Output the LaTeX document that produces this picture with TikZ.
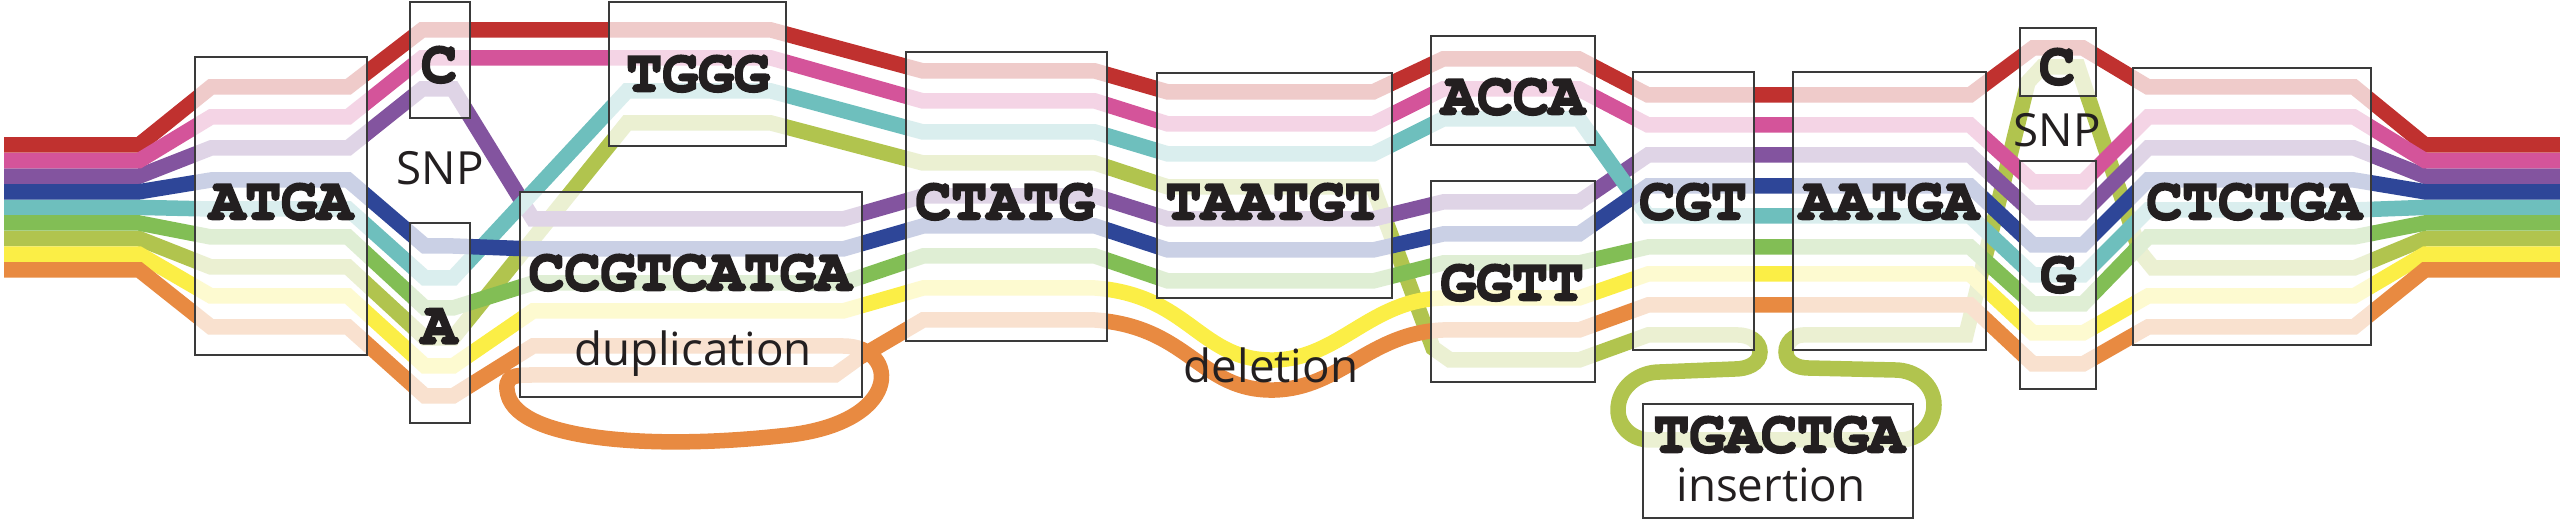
\documentclass[tikz,border=0pt]{standalone}
\usepackage{fontspec}
\newfontfamily\notefont{Open Sans}
\newcommand{\seqfont}{\fontencoding{T1}\fontfamily{pcr}\fontseries{b}\selectfont}
\usetikzlibrary{fit,positioning}
\definecolor{pathred}{HTML}{C0312F}
\definecolor{pathpink}{HTML}{D4549A}
\definecolor{pathpurple}{HTML}{83549F}
\definecolor{pathblue}{HTML}{2E4698}
\definecolor{pathteal}{HTML}{6EBFBD}
\definecolor{pathgreen}{HTML}{82BE55}
\definecolor{patholive}{HTML}{B1C44E}
\definecolor{pathyellow}{HTML}{FBEE46}
\definecolor{pathorange}{HTML}{E88A41}
\definecolor{boxgray}{HTML}{3A3A3A}
\definecolor{ink}{HTML}{231F20}
\tikzset{
  lane/.style={line width=0.155cm, miter limit=2},
  seqbox/.style={draw=boxgray, line width=0.7pt, fill=white, fill opacity=0.75,
                 inner sep=0pt},
  seq/.style={font=\fontsize{17}{17}\seqfont, text=ink, inner sep=0pt,
              execute at begin node=\special{pdf:literal 2 Tr 0.6 w},
              execute at end node=\special{pdf:literal 0 Tr}},
  note/.style={font=\notefont\fontsize{13}{13}\selectfont, text=ink, inner sep=0pt},
}

\begin{document}
\begin{tikzpicture}[x=0.01cm, y=-0.01cm]
  \useasboundingbox (0,0) rectangle (2560,528);

  % haplotype paths, olive first so it runs underneath
  \draw[lane, patholive] (4,238.6) -- (139,238.6) -- (211,267) -- (348,267)
    -- (425,338) -- (453,338) -- (627,123) -- (771,123) -- (923,163) -- (1095,163)
    -- (1168,187) -- (1373,187) -- (1433,348) -- (1450,360) -- (1579,360)
    -- (1648,335) -- (1738,335) to[out=0,in=90] (1760,352) to[out=-90,in=0] (1735,369)
    -- (1660,372) to[out=180,in=90] (1618,410) to[out=-90,in=180] (1650,440)
    -- (1900,440) to[out=0,in=-90] (1934,405) to[out=90,in=0] (1895,370)
    -- (1808,368) to[out=180,in=-90] (1786,352) to[out=90,in=180] (1803,335)
    -- (1966,335) -- (2028,82) -- (2042,67) -- (2078,67) -- (2140,252)
    -- (2153,268) -- (2354,268) -- (2425,238.6) -- (2560,238.6);
  \draw[lane, pathpurple] (4,176.2) -- (139,176.2) -- (211,148) -- (348,148)
    -- (422,89) -- (453,89) -- (533,219) -- (843,219) -- (923,196) -- (1095,196)
    -- (1168,219) -- (1373,219) -- (1443,202) -- (1579,202) -- (1648,155)
    -- (1970,155) -- (2033,213) -- (2083,213) -- (2148,148) -- (2354,148)
    -- (2425,176.2) -- (2560,176.2);
  \draw[lane, pathteal] (4,207.4) -- (139,207.4) -- (211,209) -- (348,209)
    -- (425,278) -- (453,278) -- (627,91) -- (771,91) -- (923,132) -- (1095,132)
    -- (1168,154) -- (1373,154) -- (1443,119) -- (1579,119) -- (1648,216)
    -- (1970,216) -- (2033,275) -- (2083,275) -- (2148,210) -- (2354,210)
    -- (2425,207.4) -- (2560,207.4);
  \draw[lane, pathred] (4,145) -- (139,145) -- (211,87) -- (348,87)
    -- (422,30) -- (771,30) -- (923,71) -- (1095,71) -- (1168,92) -- (1373,92)
    -- (1443,59) -- (1579,59) -- (1648,95) -- (1970,95) -- (2033,48) -- (2083,48)
    -- (2148,87) -- (2354,87) -- (2425,145) -- (2560,145);
  \draw[lane, pathpink] (4,160.6) -- (139,160.6) -- (211,117) -- (348,117)
    -- (422,58) -- (771,58) -- (923,101) -- (1095,101) -- (1168,124) -- (1373,124)
    -- (1443,89) -- (1579,89) -- (1648,125) -- (1970,125) -- (2033,182)
    -- (2083,182) -- (2148,117) -- (2354,117) -- (2425,160.6) -- (2560,160.6);
  \draw[lane, pathblue] (4,191.8) -- (139,191.8) -- (211,180) -- (348,180)
    -- (425,246) -- (453,246) -- (533,249) -- (843,249) -- (923,226) -- (1095,226)
    -- (1168,250) -- (1373,250) -- (1443,234) -- (1579,234) -- (1648,186)
    -- (1970,186) -- (2033,245) -- (2083,245) -- (2148,180) -- (2354,180)
    -- (2425,191.8) -- (2560,191.8);
  \draw[lane, pathgreen] (4,223) -- (139,223) -- (211,237) -- (348,237)
    -- (425,308) -- (453,308) -- (533,283) -- (843,283) -- (923,256) -- (1095,256)
    -- (1168,281) -- (1373,281) -- (1443,263) -- (1579,263) -- (1648,247)
    -- (1970,247) -- (2033,304) -- (2083,304) -- (2148,237) -- (2354,237)
    -- (2425,223) -- (2560,223);
  \draw[lane, pathyellow] (4,254.2) -- (139,254.2) -- (211,296) -- (348,296)
    -- (425,366) -- (453,366) -- (533,311) -- (843,311) -- (923,288) -- (1095,288)
    .. controls (1190,295) and (1200,362) .. (1275,360)
    .. controls (1340,358) and (1370,300) .. (1443,298) -- (1579,298)
    -- (1648,274) -- (1970,274) -- (2033,333) -- (2083,333) -- (2148,296)
    -- (2354,296) -- (2425,254.2) -- (2560,254.2);
  \draw[lane, pathorange] (4,269.8) -- (139,269.8) -- (211,327) -- (348,327)
    -- (425,396) -- (453,396) -- (533,346) -- (843,346)
    .. controls (900,346) and (905,425) .. (780,436)
    .. controls (650,450) and (520,440) .. (508,395)
    .. controls (503,375) and (515,375) .. (533,375) -- (835,375) -- (860,357)
    -- (923,320) -- (1095,320)
    .. controls (1190,327) and (1200,392) .. (1275,390)
    .. controls (1340,388) and (1370,333) .. (1443,330) -- (1579,330)
    -- (1648,305) -- (1970,305) -- (2033,364) -- (2083,364) -- (2148,327)
    -- (2354,327) -- (2425,269.8) -- (2560,269.8);

  % sequence nodes
  \node[seqbox, fit={(195,57) (367,355)}] (atga) {};
  \node[seqbox, fit={(410,2) (470,118)}] (snpc) {};
  \node[seqbox, fit={(410,223) (470,423)}] (snpa) {};
  \node[seqbox, fit={(609,2) (786,146)}] (tggg) {};
  \node[seqbox, fit={(520,192) (862,397)}] (dup) {};
  \node[seqbox, fit={(906,52) (1107,341)}] (ctatg) {};
  \node[seqbox, fit={(1157,73) (1392,298)}] (taatgt) {};
  \node[seqbox, fit={(1431,36) (1595,145)}] (acca) {};
  \node[seqbox, fit={(1431,181) (1595,382)}] (ggtt) {};
  \node[seqbox, fit={(1633,72) (1754,350)}] (cgt) {};
  \node[seqbox, fit={(1793,72) (1986,350)}] (aatga) {};
  \node[seqbox, fit={(1643,404) (1913,518)}] (ins) {};
  \node[seqbox, fit={(2020,28) (2096,96)}] (snpc2) {};
  \node[seqbox, fit={(2020,161) (2096,389)}] (snpg) {};
  \node[seqbox, fit={(2133,68) (2371,345)}] (ctctga) {};

  % labels
  \node[seq] at (281,202) {ATGA};
  \node[seq] at (439,65) {C};
  \node[seq] at (439,327) {A};
  \node[note] at (440,168) {SNP};
  \node[seq] at (698,74) {TGGG};
  \node[seq] at (690,273) {CCGTCATGA};
  \node[note] at (693,354) {duplication};
  \node[seq] at (1005,202) {CTATG};
  \node[seq] at (1273,202) {TAATGT};
  \node[note] at (1271,365) {deletion};
  \node[seq] at (1513,97) {ACCA};
  \node[seq] at (1512,283) {GGTT};
  \node[seq] at (1693,202) {CGT};
  \node[seq] at (1889,202) {AATGA};
  \node[seq] at (1779,435) {TGACTGA};
  \node[note] at (1771,485) {insertion};
  \node[seq] at (2057,67) {C};
  \node[note] at (2057,130) {SNP};
  \node[seq] at (2058,275) {G};
  \node[seq] at (2254,202) {CTCTGA};
\end{tikzpicture}
\end{document}
